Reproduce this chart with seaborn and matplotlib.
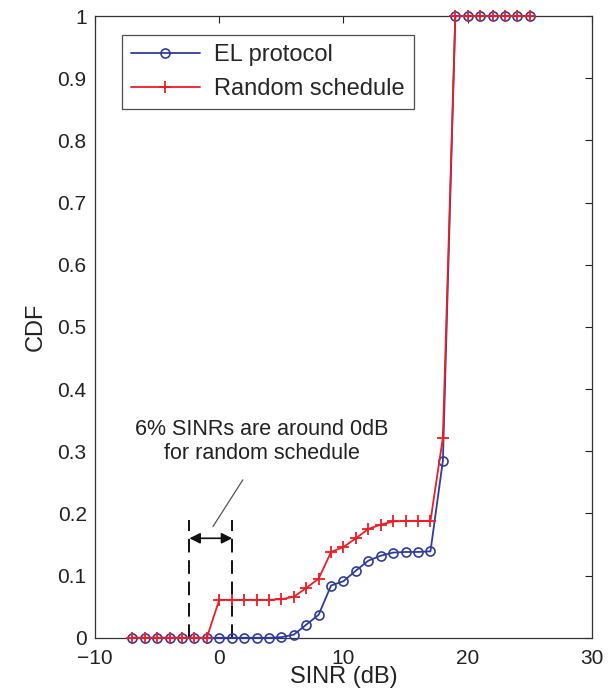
import numpy as np
import pandas as pd
import matplotlib
matplotlib.use('Agg')
import matplotlib.pyplot as plt
import seaborn as sns

# SINR grid (dB) and CDF values
sinr = list(range(-7, 26))
el_cdf = [0, 0, 0, 0, 0, 0, 0,                      # -7 .. -1
          0, 0, 0, 0, 0, 0.001,                     # 0 .. 5
          0.005, 0.021, 0.037, 0.084, 0.091, 0.108, # 6 .. 11
          0.124, 0.132, 0.137, 0.138, 0.138, 0.139, # 12 .. 17
          0.285,                                    # 18
          1, 1, 1, 1, 1, 1, 1]                      # 19 .. 25
rand_cdf = [0, 0, 0, 0, 0, 0, 0,
            0.061, 0.061, 0.061, 0.061, 0.061, 0.062,
            0.066, 0.080, 0.095, 0.138, 0.146, 0.160,
            0.175, 0.182, 0.187, 0.188, 0.188, 0.188,
            0.322,
            1, 1, 1, 1, 1, 1, 1]

df = pd.DataFrame({'SINR': sinr, 'EL protocol': el_cdf, 'Random schedule': rand_cdf})

# annotation marks
span = [-2.4, 1.05]
note = '6% SINRs are around 0dB\nfor random schedule'

sns.set_style('white')
plt.rcParams['font.family'] = ['Liberation Sans', 'DejaVu Sans']

fig = plt.figure(figsize=(6.1, 6.9), dpi=100)
ax = fig.add_axes([0.1557, 0.0757, 0.8148, 0.9011])

blue = '#2E3C9E'
red = '#EE1C25'
sns.lineplot(data=df, x='SINR', y='EL protocol', ax=ax, color=blue, lw=1.3,
             marker='o', markersize=6.5, markerfacecolor='none',
             markeredgecolor=blue, markeredgewidth=1.2, label='EL protocol',
             clip_on=False, zorder=3)
sns.lineplot(data=df, x='SINR', y='Random schedule', ax=ax, color=red, lw=1.3,
             marker='+', markersize=8, markeredgewidth=1.3,
             markeredgecolor=red, label='Random schedule',
             clip_on=False, zorder=4)

# dashed bounds and double arrow
for xv in span:
    ax.plot([xv, xv], [0, 0.19], ls=(0, (7, 4)), color='#111111', lw=1.4)
ax.annotate('', xy=(span[0], 0.16), xytext=(span[1], 0.16),
            arrowprops=dict(arrowstyle='<|-|>', color='#111111', lw=1.2,
                            mutation_scale=16, shrinkA=0, shrinkB=0))
ax.plot([-0.5, 1.9], [0.179, 0.254], color='#555555', lw=0.9)
ax.text(3.45, 0.316, note, ha='center', va='center', fontsize=15.5,
        color='#222222', linespacing=1.2)

ax.set_xlim(-10, 30)
ax.set_ylim(0, 1)
ax.set_xticks([-10, 0, 10, 20, 30])
ax.set_yticks(np.arange(0, 1.01, 0.1))
ax.set_yticklabels(['0', '0.1', '0.2', '0.3', '0.4', '0.5', '0.6', '0.7',
                    '0.8', '0.9', '1'])
ax.tick_params(direction='in', length=5, top=True, right=True,
               labelsize=15, colors='#222222', width=0.8)
ax.tick_params(axis='x', pad=8)
ax.tick_params(axis='y', pad=6)
ax.set_xlabel('SINR (dB)', fontsize=17, color='#222222', labelpad=-1)
ax.set_ylabel('CDF', fontsize=17, color='#222222', labelpad=8)
for s in ax.spines.values():
    s.set_color('#333333')
    s.set_linewidth(0.9)

leg = ax.legend(loc='upper left', bbox_to_anchor=(0.054, 0.97), fontsize=17,
                frameon=True, fancybox=False, edgecolor='#222222',
                handlelength=2.9, handletextpad=0.6, borderpad=0.4,
                labelspacing=0.5, borderaxespad=0)
leg.get_frame().set_linewidth(0.9)
leg.set_zorder(5)

fig.savefig('out.png', dpi=100)
